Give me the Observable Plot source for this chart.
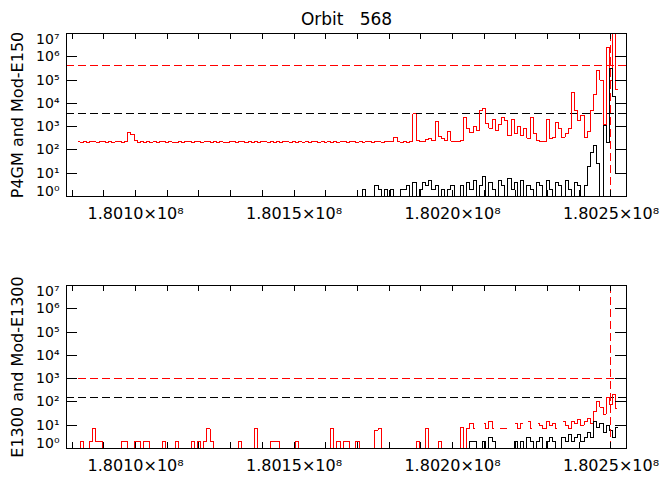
<!DOCTYPE html>
<html>
<head>
<meta charset="utf-8">
<script src="https://cdn.jsdelivr.net/npm/d3@7"></script>
<script src="https://cdn.jsdelivr.net/npm/@observablehq/plot@0.6"></script>
<style>
  body { margin: 0; background: #fff; }
  #chart { width: 666px; height: 480px; background: #fff; }
  #chart svg { display: block; }
  #chart svg path, #chart svg line, #chart svg rect { shape-rendering: crispEdges; }
  svg text { white-space: pre; }
</style>
</head>
<body>
<div id="chart"></div>
<script>
// ---- Data ----
const title = "Orbit   568";
const topLabel = "P4GM and Mod-E150";
const bottomLabel = "E1300 and Mod-E1300";

const sampleStart = 180082000;   // time of first sample
const sampleStep = 1000;         // sampling interval

// P4GM (red, top panel)
const redTop = [
  220,215,225,210,230,220,215,228,220,212,
  230,215,222,226,214,240,540,470,250,215,
  220,205,225,215,230,210,220,225,212,228,
  218,210,225,215,222,230,212,220,226,214,
  220,228,210,222,216,230,218,212,226,220,
  214,228,220,210,232,218,222,214,226,220,
  212,230,218,224,210,228,220,216,232,214,
  222,218,230,212,226,220,214,228,218,224,
  210,230,216,222,228,212,220,236,214,226,
  218,222,232,210,226,220,216,228,222,240,
  340,220,214,226,218,230,3500,260,222,230,
  280,320,260,1600,380,300,250,600,240,226,
  232,250,2500,800,550,1000,650,5000,6000,1400,
  850,2000,700,1200,2500,1800,400,2000,500,1000,
  420,800,320,2500,500,260,220,230,2000,320,
  350,1500,800,350,500,800,30000,5000,1800,3000,
  350,600,5000,25000,250000,100000,1200,2500000,100000,12000000,
  40000
];

// Mod-E150 (black, top panel); 1 = nothing counted
const blackTop = [
  1,1,1,1,1,1,1,1,1,1,
  1,1,1,1,1,1,1,1,1,1,
  1,1,1,1,1,1,1,1,1,1,
  1,1,1,1,1,1,1,1,1,1,
  1,1,1,1,1,1,1,1,1,1,
  1,1,1,1,1,1,1,1,1,1,
  1,1,1,1,1,1,1,1,1,1,
  1,1,1,1,1,1,1,1,1,1,
  1,1,1,1,1,1,1,1,1,1,
  2,1,1,1,3,2,1,2,1,2,
  1,1,2,2,3,1,4,1,2,4,
  3,5,2,3,1,2,1,2,3,1,
  1,3,1,4,2,5,1,3,7,1,
  4,2,1,5,3,1,6,2,4,1,
  5,1,3,2,1,4,3,1,5,2,
  1,4,3,1,5,2,1,4,3,1,
  3,20,80,150,25,1,1100,200,300000,20000,
  10,10,10
];

// E1300 (red, bottom panel); null = no sample drawn
const redBottom = [
  1,2,1,1,2,7,2,2,1,1,
  1,1,1,1,2,2,1,1,2,2,
  1,2,2,1,1,1,1,2,1,1,
  1,2,1,1,1,1,2,1,2,1,
  2,7,2,1,1,1,1,1,1,1,
  1,2,1,1,1,1,7,1,1,1,
  1,2,2,2,1,1,1,1,1,2,
  1,1,1,1,1,1,1,1,1,1,
  7,1,2,1,2,2,1,1,2,1,
  1,1,1,1,6,7,1,1,1,1,
  1,1,1,1,1,1,1,2,1,1,
  7,1,1,1,2,1,1,1,1,1,
  1,8,1,7,12,7,null,null,12,7,
  15,7,null,7,7,7,null,null,12,7,
  12,null,15,7,null,12,10,7,15,10,
  12,7,null,15,10,7,15,12,18,10,
  15,20,12,40,100,60,30,150,80,200,
  50
];

// Mod-E1300 (black, bottom panel)
const blackBottomStart = 180205000;
const blackBottom = [
  1,2,2,1,1,2,1,
  3,2,1,1,1,1,1,1,2,1,
  2,1,3,2,1,2,3,1,2,3,
  2,1,1,3,2,4,2,3,4,2,
  3,5,3,15,8,12,5,10,6,3,
  8
];

const topRedLevel = 407000;
const topBlackLevel = 3670;
const bottomRedLevel = 1000;
const bottomBlackLevel = 155;
const markerTime = 180249700;

const xDomain = [180078200, 180254900];
const yDomain = [1, 1e7];
const yTicks = [1, 10, 100, 1000, 1e4, 1e5, 1e6, 1e7];
const xTicks = [180080000,180090000,180100000,180110000,180120000,180130000,
  180140000,180150000,180160000,180170000,180180000,180190000,180200000,
  180210000,180220000,180230000,180240000,180250000];
const xLabelTicks = [180100000, 180150000, 180200000, 180250000];

// ---- Rendering ----
const supDigits = {"0":"⁰","1":"¹","2":"²","3":"³","4":"⁴","5":"⁵","6":"⁶","7":"⁷","8":"⁸","9":"⁹"};
const fmtY = d => "10" + String(Math.round(Math.log10(d))).split("").map(c => supDigits[c]).join("");
const fmtX = d => (d / 1e8).toFixed(4) + "×10⁸";
const toRows = (vals, start) => vals.map((v, i) => ({t: start + i * sampleStep, v}));

const W = 666, H = 240, ML = 66, MR = 40;
const frameW = W - ML - MR;
const frameH = 163;

function panel({red, black, blackStart, redLevel, blackLevel, label, withTitle, marginTop, marginBottom}) {
  const yAxisOpts = {tickSize: 0, tickPadding: 7, tickFormat: fmtY, fontSize: 14, label: null};
  return Plot.plot({
    width: W, height: H,
    marginLeft: ML, marginRight: MR, marginTop, marginBottom,
    style: {fontFamily: "'DejaVu Sans', sans-serif", fontSize: "14px", background: "#fff", color: "#000", overflow: "visible"},
    x: {domain: xDomain, axis: null},
    y: {type: "log", domain: yDomain, axis: null},
    marks: [
      Plot.ruleY([redLevel], {stroke: "#ff0000", strokeDasharray: "8,4"}),
      Plot.ruleY([blackLevel], {stroke: "#000", strokeDasharray: "8,4"}),
      Plot.line(toRows(red, sampleStart), {x: "t", y: "v", curve: "step", stroke: "#ff0000", strokeWidth: 1, clip: true}),
      Plot.line(toRows(black, blackStart), {x: "t", y: "v", curve: "step", stroke: "#000", strokeWidth: 1, clip: true}),
      Plot.ruleX([markerTime], {stroke: "#ff0000", strokeDasharray: "8,4"}),
      Plot.frame({stroke: "#000"}),
      Plot.tickY(yTicks, {y: d => d, insetRight: frameW - 11, stroke: "#000"}),
      Plot.tickY(yTicks, {y: d => d, insetLeft: frameW - 11, stroke: "#000"}),
      Plot.tickX(xTicks, {x: d => d, insetTop: frameH - 6, stroke: "#000"}),
      Plot.tickX(xTicks, {x: d => d, insetBottom: frameH - 6, stroke: "#000"}),
      Plot.axisY(yTicks.slice(1, -1), yAxisOpts),
      Plot.axisY([yTicks[0]], {...yAxisOpts, dy: -5}),
      Plot.axisY([yTicks[yTicks.length - 1]], {...yAxisOpts, dy: 6}),
      Plot.axisX(xLabelTicks, {tickSize: 0, tickPadding: 11, tickFormat: fmtX, fontSize: 16, label: null}),
      Plot.text([label], {frameAnchor: "left", rotate: -90, dx: -49, textAnchor: "middle", lineAnchor: "middle", fontSize: 16, fill: "#000"}),
      withTitle ? Plot.text([title], {frameAnchor: "top", dy: -14, textAnchor: "middle", lineAnchor: "middle", fontSize: 17, fill: "#000"}) : null
    ]
  });
}

const chart = document.getElementById("chart");
chart.append(panel({
  red: redTop, black: blackTop, blackStart: sampleStart,
  redLevel: topRedLevel, blackLevel: topBlackLevel,
  label: topLabel, withTitle: true, marginTop: 33, marginBottom: 44
}));
chart.append(panel({
  red: redBottom, black: blackBottom, blackStart: blackBottomStart,
  redLevel: bottomRedLevel, blackLevel: bottomBlackLevel,
  label: bottomLabel, withTitle: false, marginTop: 45, marginBottom: 32
}));
</script>
</body>
</html>
